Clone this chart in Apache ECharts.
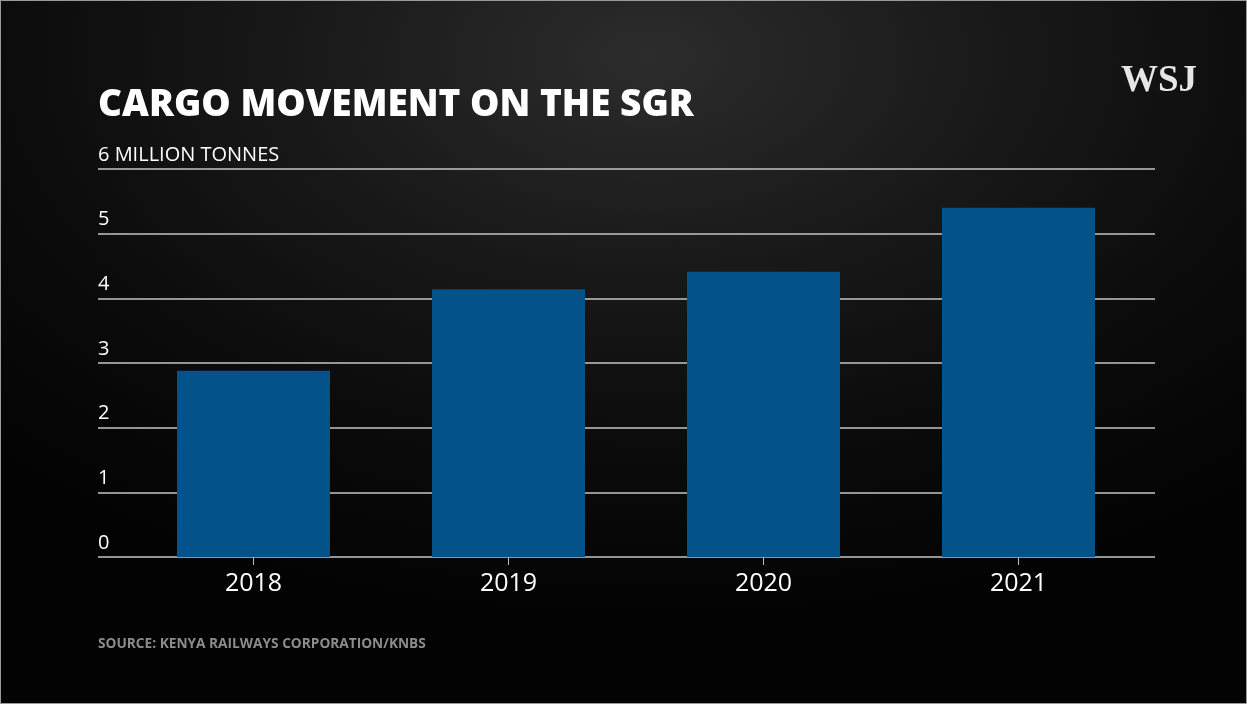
<!DOCTYPE html>
<html>
<head>
<meta charset="utf-8">
<script src="https://cdn.jsdelivr.net/npm/echarts@6/dist/echarts.min.js"></script>
<style>
  html, body { margin: 0; padding: 0; background: #000; }
  #chart {
    width: 1247px; height: 704px; box-sizing: border-box;
    border: 1px solid #9a9a9a;
    background: radial-gradient(ellipse 75% 80% at 52% 8%, #2c2c2c 0%, #1a1a1a 35%, #0b0b0b 70%, #030303 100%);
  }
</style>
</head>
<body>
<div id="chart"></div>
<script>
const categories = ['2018', '2019', '2020', '2021'];
const cargoValues = [2.88, 4.14, 4.41, 5.40];
const yTicks = [0, 1, 2, 3, 4, 5, 6];
const yTopLabel = '6 MILLION TONNES';
const titleText = 'CARGO MOVEMENT ON THE SGR';
const sourceText = 'SOURCE: KENYA RAILWAYS CORPORATION/KNBS';
const logoText = 'WSJ';

const chart = echarts.init(document.getElementById('chart'), null, { renderer: 'canvas' });
const font = '"Open Sans", "Noto Sans", sans-serif';
const yMin = yTicks[0], yMax = yTicks[yTicks.length - 1];

chart.setOption({
  backgroundColor: 'transparent',
  animation: false,
  title: [
    { text: titleText, left: 92, top: 81,
      textStyle: { color: '#ffffff', fontFamily: font, fontWeight: 800, fontSize: 37 } },
    { text: sourceText, left: 92, top: 631,
      textStyle: { color: '#8c8c8c', fontFamily: font, fontWeight: 'bold', fontSize: 13.7 } },
    { text: logoText, left: 1115, top: 57,
      textStyle: { color: '#e6e6e6', fontFamily: '"Liberation Serif", "DejaVu Serif", serif', fontWeight: 'bold', fontSize: 37 } }
  ],
  grid: [
    { left: 97, width: 1057, top: 168, height: 388 },
    { left: 125, width: 1020, top: 168, height: 388 }
  ],
  xAxis: [
    { gridIndex: 0, type: 'value', show: false, min: 0, max: 1 },
    { gridIndex: 1, type: 'category', data: categories, boundaryGap: true,
      axisLine: { show: false },
      axisTick: { show: true, alignWithLabel: true, length: 8, lineStyle: { color: '#bdbdbd', width: 1 } },
      axisLabel: { color: '#ffffff', fontFamily: font, fontSize: 25, margin: 14 } }
  ],
  yAxis: [
    { gridIndex: 0, type: 'value', min: yMin, max: yMax, interval: 1,
      axisLine: { show: false }, axisTick: { show: false },
      splitLine: { show: true, lineStyle: { color: '#c4c4c4', width: 1.6 } },
      axisLabel: { inside: true, margin: 0, align: 'left', verticalAlign: 'bottom',
        padding: [0, 0, 4, 0], color: '#ffffff', fontFamily: font, fontSize: 20,
        formatter: v => v === yMax ? yTopLabel : String(v) } },
    { gridIndex: 1, type: 'value', min: yMin, max: yMax, interval: 1, show: false }
  ],
  series: [
    { type: 'bar', xAxisIndex: 1, yAxisIndex: 1, data: cargoValues, barWidth: '60%',
      itemStyle: { color: '#04528a' } }
  ]
});
</script>
</body>
</html>
